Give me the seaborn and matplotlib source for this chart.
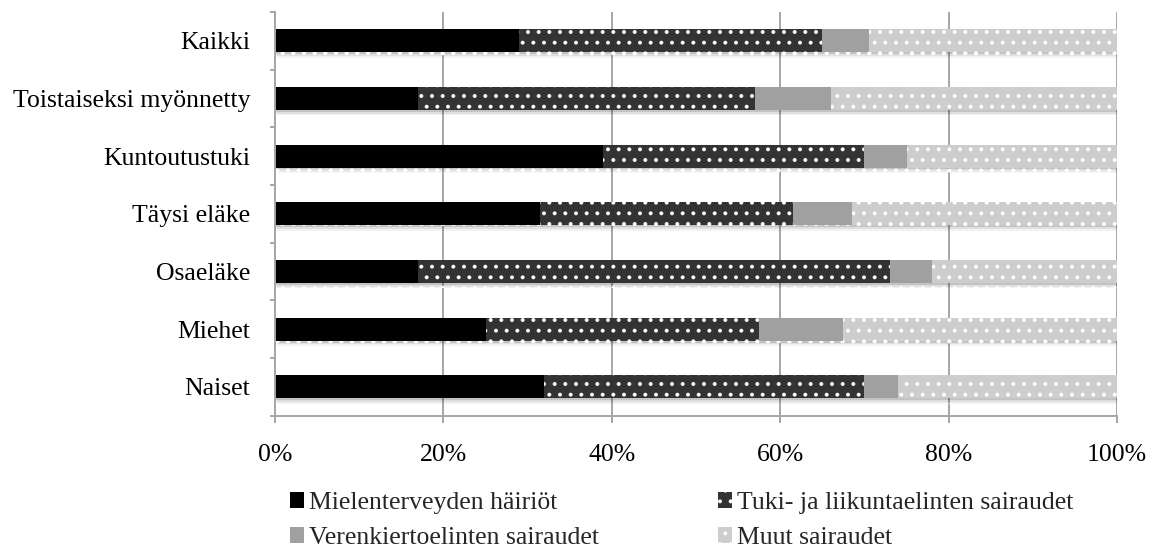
import numpy as np
import pandas as pd
import matplotlib
matplotlib.use("Agg")
import matplotlib.pyplot as plt
import matplotlib.patches as mpatches
import matplotlib.patheffects as pe
import seaborn as sns

# Categories (top to bottom) and shares of each disease group (%)
categories = ["Kaikki", "Toistaiseksi myönnetty", "Kuntoutustuki",
              "Täysi eläke", "Osaeläke", "Miehet", "Naiset"]
mielenterveys = [29.0, 17.0, 39.0, 31.5, 17.0, 25.0, 32.0]
tuki_liikunta = [36.0, 40.0, 31.0, 30.0, 56.0, 32.5, 38.0]
verenkierto = [5.5, 9.0, 5.0, 7.0, 5.0, 10.0, 4.0]
muut = [29.5, 34.0, 25.0, 31.5, 22.0, 32.5, 26.0]

series_names = ["Mielenterveyden häiriöt", "Tuki- ja liikuntaelinten sairaudet",
                "Verenkiertoelinten sairaudet", "Muut sairaudet"]
x_ticks = [0, 20, 40, 60, 80, 100]
x_labels = ["0%", "20%", "40%", "60%", "80%", "100%"]

colors = ["#000000", "#333333", "#a0a0a0", "#cdcdcd"]
hatches = [None, "..", None, ".."]

sns.set_theme(style="white")
plt.rcParams["font.family"] = ["Liberation Serif", "DejaVu Serif"]
plt.rcParams["hatch.linewidth"] = 1.0

FS = 14.5
DPI = 128
fig = plt.figure(figsize=(1155 / DPI, 551 / DPI), dpi=DPI)
ax = fig.add_axes([275 / 1155, 1 - 415.7 / 551, (1117 - 275) / 1155, (415.7 - 12) / 551])

df = pd.DataFrame({
    "kategoria": categories,
    "s0": mielenterveys, "s1": tuki_liikunta, "s2": verenkierto, "s3": muut,
})
cum = df[["s0", "s1", "s2", "s3"]].cumsum(axis=1)

grid_col = "#a6a6a6"
ax.set_axisbelow(True)
ax.xaxis.grid(True, color=grid_col, linewidth=1.1)

# Stacked bars: draw cumulative totals from the widest layer down
for i in [3, 2, 1, 0]:
    kw = dict(color=colors[i], edgecolor="white", linewidth=0)
    if hatches[i]:
        kw["hatch"] = hatches[i]
    sns.barplot(x=cum[f"s{i}"].values, y=df["kategoria"], orient="h",
                width=0.4, ax=ax, saturation=1, **kw)
    if i == 3:
        # soft drop shadow under each full bar
        for p in ax.patches:
            p.set_path_effects([
                pe.SimplePatchShadow(offset=(0.3, -1.0), shadow_rgbFace="#000000", alpha=0.12),
                pe.SimplePatchShadow(offset=(0.6, -2.0), shadow_rgbFace="#000000", alpha=0.08),
                pe.SimplePatchShadow(offset=(0.9, -3.0), shadow_rgbFace="#000000", alpha=0.05),
                pe.Normal(),
            ])

ax.set_xlim(0, 100)
ax.set_ylim(6.5, -0.5)
ax.set_xticks(x_ticks)
ax.set_xticklabels(x_labels)
ax.set_xlabel("")
ax.set_ylabel("")
ax.set_yticks(np.arange(-0.5, 7.0, 1.0), minor=True)

ax.tick_params(axis="y", which="major", length=0, pad=14, labelsize=FS, colors="#000000")
ax.tick_params(axis="y", which="minor", left=True, length=3, width=1.1, color=grid_col)
ax.tick_params(axis="x", which="major", bottom=True, length=4, width=1.1, color=grid_col,
               pad=12, labelsize=FS, labelcolor="#000000")

for side in ["top", "right"]:
    ax.spines[side].set_visible(False)
for side in ["left", "bottom"]:
    ax.spines[side].set_color(grid_col)
    ax.spines[side].set_linewidth(1.1)

handles = []
for i in [0, 2, 1, 3]:
    handles.append(mpatches.Patch(facecolor=colors[i], edgecolor="white", linewidth=0,
                                  hatch=hatches[i], label=series_names[i]))
fig.legend(handles=handles, ncol=2, loc="upper left",
           bbox_to_anchor=(290 / 1155, 1 - 492 / 551), frameon=False,
           fontsize=FS, handlelength=0.55, handleheight=0.55, handletextpad=0.2,
           columnspacing=4.6, labelspacing=0.5, borderpad=0, borderaxespad=0)

fig.savefig("out.png", dpi=DPI)
